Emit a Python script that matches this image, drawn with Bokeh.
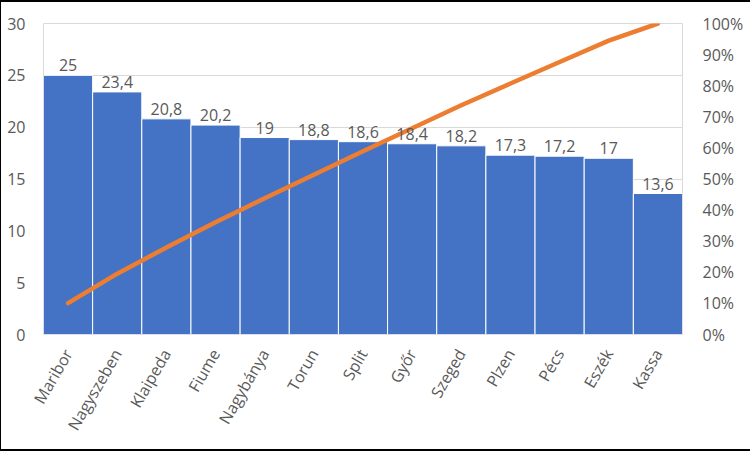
import numpy as np
from bokeh.plotting import figure
from bokeh.models import Range1d, LinearAxis, NumeralTickFormatter, FixedTicker, ColumnDataSource, InlineStyleSheet
from bokeh.core.properties import value
from bokeh.embed import file_html
from bokeh.resources import INLINE

cities = ["Maribor", "Nagyszeben", "Klaipeda", "Fiume", "Nagybánya", "Torun", "Split",
          "Győr", "Szeged", "Plzen", "Pécs", "Eszék", "Kassa"]
values = [25, 23.4, 20.8, 20.2, 19, 18.8, 18.6, 18.4, 18.2, 17.3, 17.2, 17, 13.6]

cum_share = list(np.cumsum(values) / np.sum(values))
labels = [f"{v:g}".replace(".", ",") for v in values]

FONT = "Open Sans"
GRAY = "#595959"

src = ColumnDataSource(dict(x=cities, y=values, lab=labels, cum=cum_share))

p = figure(x_range=cities, y_range=Range1d(0, 30), width=750, height=451,
           output_backend="svg", toolbar_location=None,
           min_border_left=42, min_border_right=69, min_border_top=21, min_border_bottom=119)
p.x_range.range_padding = 0
p.extra_y_ranges = {"pct": Range1d(0, 1)}

p.vbar(x="x", top="y", width=1.0, source=src, fill_color="#4472C4", line_color="white", line_width=1)
p.line(x="x", y="cum", source=src, y_range_name="pct", line_color="#ED7D31", line_width=4.5,
       line_cap="round", line_join="round")
p.text(x="x", y="y", text="lab", source=src, text_align="center", text_baseline="bottom",
       y_offset=-4, text_font=value(FONT), text_font_size="16px", text_color=GRAY)

p.yaxis.ticker = FixedTicker(ticks=[0, 5, 10, 15, 20, 25, 30])
ax2 = LinearAxis(y_range_name="pct", ticker=FixedTicker(ticks=[i / 10 for i in range(11)]),
                 formatter=NumeralTickFormatter(format="0%"))
p.add_layout(ax2, "right")

for ax in [p.yaxis[0], ax2]:
    ax.axis_line_color = None
    ax.major_tick_line_color = None
    ax.minor_tick_line_color = None
    ax.major_label_text_font = FONT
    ax.major_label_text_font_size = "16px"
    ax.major_label_text_color = GRAY
p.yaxis[0].major_label_standoff = 12
ax2.major_label_standoff = 14

xa = p.xaxis[0]
xa.axis_line_color = None
xa.major_tick_line_color = None
xa.minor_tick_line_color = None
xa.major_label_orientation = np.pi / 3
xa.major_label_text_font = FONT
xa.major_label_text_font_size = "16px"
xa.major_label_text_color = GRAY
xa.major_label_standoff = 10

p.xgrid.grid_line_color = None
p.ygrid.grid_line_color = "#D9D9D9"
p.ygrid.ticker = FixedTicker(ticks=[0, 5, 10, 15, 20, 25, 30])
p.outline_line_color = "#D9D9D9"
p.background_fill_color = "white"
p.border_fill_color = "white"
p.stylesheets = [InlineStyleSheet(css=(
    ":host { border-left: 1px solid black; border-top: 2px solid black; "
    "border-bottom: 2px solid black; box-sizing: border-box; }"))]

open("out.html", "w").write(file_html(p, INLINE))
